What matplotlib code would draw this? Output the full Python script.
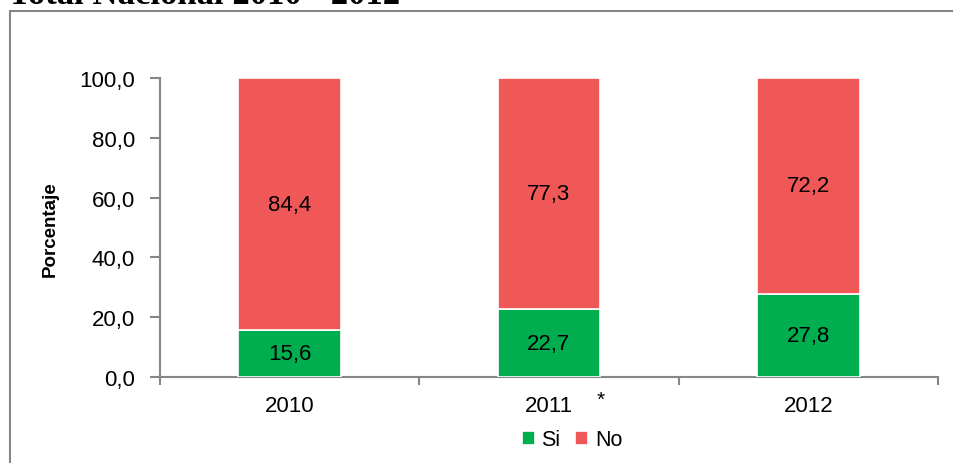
import matplotlib.pyplot as plt
from matplotlib.patches import Rectangle
from matplotlib.ticker import FuncFormatter

# data
years = ["2010", "2011", "2012"]
si = [15.6, 22.7, 27.8]
no = [84.4, 77.3, 72.2]

green = "#00AE50"
red = "#F05858"
grey = "#868686"

plt.rcParams['font.family'] = ['Liberation Sans', 'DejaVu Sans']

W, H = 954, 464
fig = plt.figure(figsize=(W / 100, H / 100), dpi=100)
ax = fig.add_axes([160 / W, 1 - 378 / H, (938 - 160) / W, (378 - 79) / H])

x = range(len(years))
ax.bar(x, si, width=0.395, color=green, edgecolor="white", linewidth=1.2, label="Si", zorder=3)
ax.bar(x, no, width=0.395, bottom=si, color=red, edgecolor="white", linewidth=1.2, label="No", zorder=3)

for i in x:
    ax.text(i, si[i] / 2, f"{si[i]:.1f}".replace(".", ","), ha="center", va="center", fontsize=16)
    ax.text(i, si[i] + no[i] / 2, f"{no[i]:.1f}".replace(".", ","), ha="center", va="center", fontsize=16)

ax.set_xlim(-0.5, 2.5)
ax.set_ylim(0, 100)
ax.set_yticks([0, 20, 40, 60, 80, 100])
ax.yaxis.set_major_formatter(FuncFormatter(lambda v, p: f"{v:.1f}".replace(".", ",")))
ax.set_xticks(list(x))
ax.set_xticklabels(years)
ax.set_xticks([-0.5, 0.5, 1.5, 2.5], minor=True)
ax.tick_params(axis="x", which="major", length=0, pad=13, labelsize=16)
ax.tick_params(axis="x", which="minor", length=6, color=grey, width=1.5)
ax.tick_params(axis="y", length=7, color=grey, width=1.5, labelsize=16, pad=11)

for s in ["top", "right"]:
    ax.spines[s].set_visible(False)
for s in ["left", "bottom"]:
    ax.spines[s].set_color(grey)
    ax.spines[s].set_linewidth(1.5)

fig.text(50 / W, 1 - 229 / H, "Porcentaje", rotation=90, ha="center", va="center",
         fontsize=13.5, fontweight="bold")
fig.text(601 / W, 1 - 400 / H, "*", ha="center", va="center", fontsize=15)

# outer frame
fig.patches.append(Rectangle((10 / W, -0.1), 1.2, 1 - 11.5 / H + 0.1, transform=fig.transFigure,
                             fill=False, edgecolor=grey, linewidth=1.5))

fig.text(8 / W, 1 - 4 / H, "Total Nacional 2010 - 2012", ha="left", va="baseline",
         fontsize=25, fontweight="bold", family=["Liberation Serif", "DejaVu Serif"])

fig.legend(loc="center", bbox_to_anchor=(572 / W, 1 - 441 / H), ncol=2, frameon=False,
           fontsize=15.5, handlelength=0.6, handleheight=0.6, handletextpad=0.3, columnspacing=0.7)

fig.savefig("out.png", dpi=100)
